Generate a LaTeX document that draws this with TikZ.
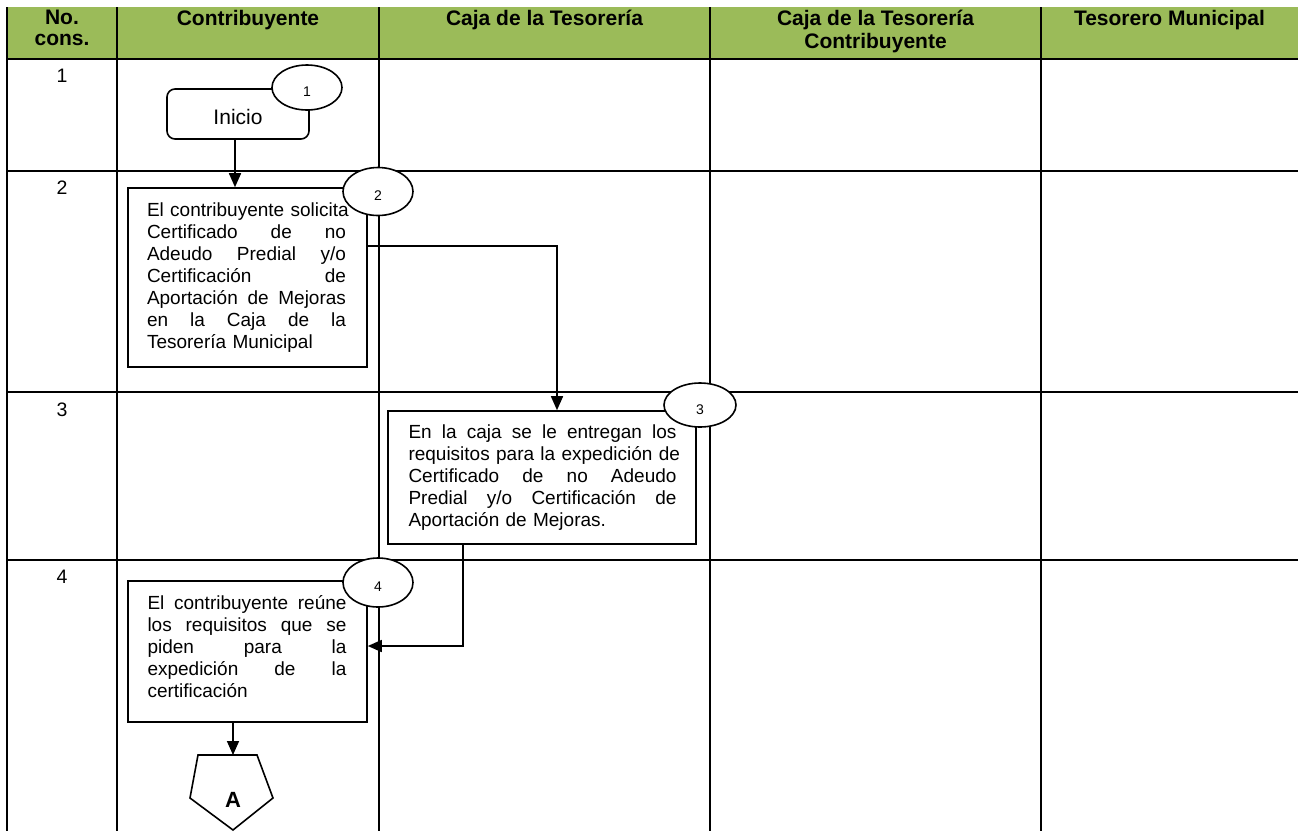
\documentclass[tikz,border=0pt]{standalone}
\usepackage{fontspec}
\setmainfont{Liberation Sans}
\usetikzlibrary{arrows.meta,shapes.geometric}
\definecolor{headgreen}{HTML}{9BBB59}
% one justified line of a fixed width (spaces stretch evenly)
\newcommand{\sprd}[2]{\makebox[#1][s]{\spaceskip=.3333em plus 1fil\relax #2}}
\begin{document}
\begin{tikzpicture}[x=1pt,y=-1pt,
  gridline/.style={line width=2.5pt},
  headtext/.style={anchor=north,inner sep=0pt,align=center,
    font=\fontsize{21}{21}\selectfont\bfseries},
  rownum/.style={anchor=base,inner sep=0pt,font=\fontsize{19.5}{22}\selectfont},
  procbox/.style={draw,line width=1.6pt,fill=white,inner sep=0pt},
  boxtext/.style={inner sep=0pt,align=left,font=\fontsize{19}{22}\selectfont},
  stepcircle/.style={ellipse,draw,line width=1.6pt,fill=white,inner sep=0pt},
  stepnum/.style={inner sep=0pt,font=\fontsize{14}{14}\selectfont},
  arr/.style={line width=1.6pt,-{Triangle[length=14pt,width=12pt]}}]
\useasboundingbox (0,0) rectangle (1298,831);

% header band
\fill[headgreen] (7,7) rectangle (1298,59);

% table rules
\foreach \x in {7,117,379,710,1041}
  \draw[gridline] (\x,7) -- (\x,831);
\foreach \y in {59,171,392,560}
  \draw[gridline] (7,\y) -- (1298,\y);

% column headings
\node[headtext] (h1) at (62,10)     {\strut No.\\cons.};
\node[headtext] (h2) at (248,10)    {\strut Contribuyente};
\node[headtext] (h3) at (544.5,10)  {\strut Caja de la Tesorería};
\node[headtext] (h4) at (875.5,10)  {\strut Caja de la Tesorería\\Contribuyente};
\node[headtext] (h5) at (1169.5,10) {\strut Tesorero Municipal};

% row numbers
\node[rownum] (r1) at (62,82)    {1};
\node[rownum] (r2) at (62,194.5) {2};
\node[rownum] (r3) at (62,416)   {3};
\node[rownum] (r4) at (62,583)   {4};

% step 1: start
\node[draw,line width=1.6pt,fill=white,rounded corners=8pt,inner sep=0pt,
  minimum width=142pt,minimum height=50pt,text height=21pt,text depth=0pt,
  font=\fontsize{21}{21}\selectfont] (inicio) at (238,114) {Inicio};

% step 2
\node[procbox,minimum width=239pt,minimum height=179pt] (box2) at (247.5,277.5) {};
\node[boxtext,text width=199pt] (box2text) at (246.5,277.5) {%
\sprd{199pt}{El contribuyente solicita}\\
\sprd{199pt}{Certificado de no}\\
\sprd{199pt}{Adeudo Predial y/o}\\
\sprd{199pt}{Certificación de}\\
\sprd{199pt}{Aportación de Mejoras}\\
\sprd{199pt}{en la Caja de la}\\
Tesorería Municipal};

% step 3
\node[procbox,minimum width=308pt,minimum height=133pt] (box3) at (542,477.5) {};
\node[boxtext,text width=268pt] (box3text) at (542.5,478) {%
\sprd{268pt}{En la caja se le entregan los}\\
\sprd{268pt}{requisitos para la expedición de}\\
\sprd{268pt}{Certificado de no Adeudo}\\
\sprd{268pt}{Predial y/o Certificación de}\\
Aportación de Mejoras.};

% step 4
\node[procbox,minimum width=239pt,minimum height=141pt] (box4) at (247.5,651.5) {};
\node[boxtext,text width=199pt] (box4text) at (247,647) {%
\sprd{199pt}{El contribuyente reúne}\\
\sprd{199pt}{los requisitos que se}\\
\sprd{199pt}{piden para la}\\
\sprd{199pt}{expedición de la}\\
certificación};

% off-page connector
\draw[line width=1.6pt,fill=white,line join=miter]
  (198,755) -- (257,755) -- (273,798) -- (233,830) -- (190,798) -- cycle;
\coordinate (offtop) at (233,755);
\node[inner sep=0pt,font=\fontsize{22}{22}\selectfont\bfseries] (offpage) at (233,800) {A};

% step numbers
\node[stepcircle,minimum width=70pt,minimum height=45pt] (c1) at (307,87.5) {};
\node[stepnum] (d1) at (307,92) {1};
\node[stepcircle,minimum width=70pt,minimum height=48pt] (c2) at (378,191.5) {};
\node[stepnum] (d2) at (378,196) {2};
\node[stepcircle,minimum width=72pt,minimum height=44pt] (c3) at (700,405) {};
\node[stepnum] (d3) at (700,410) {3};
\node[stepcircle,minimum width=70pt,minimum height=49pt] (c4) at (378,582.5) {};
\node[stepnum] (d4) at (378,587) {4};

% flow
\coordinate (x1) at (235,0);
\coordinate (k2) at (557,246);
\coordinate (k3) at (463,646);
\draw[arr] (inicio.south -| x1) -- (box2.north -| x1);
\draw[arr] (box2.east |- k2) -| (box3.north -| k2);
\draw[arr] (box3.south -| k3) |- (box4.east |- k3);
\draw[arr] (box4.south -| offtop) -- (offtop);
\end{tikzpicture}
\end{document}
